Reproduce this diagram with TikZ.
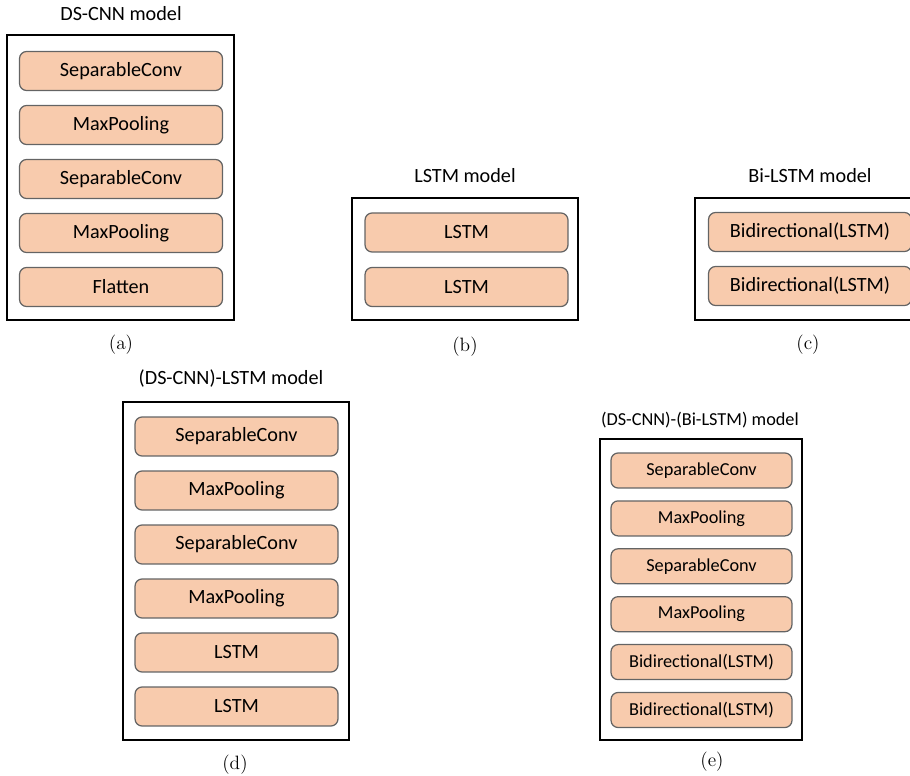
\documentclass[tikz,border=0pt]{standalone}
\usepackage{fontspec}
\newfontfamily\carlito{Carlito}
\usetikzlibrary{positioning}
\definecolor{peach}{RGB}{248,203,173}
\definecolor{edgegray}{RGB}{100,100,100}

\begin{document}
\begin{tikzpicture}[x=0.02cm, y=-0.02cm,
    layer/.style={draw=edgegray, line width=0.7pt, fill=peach, rounded corners=4pt,
        minimum width=4.06cm, minimum height=0.78cm, inner sep=0pt,
        font=\carlito\fontsize{11.5}{13}\selectfont},
    slayer/.style={layer, minimum width=3.62cm, minimum height=0.70cm,
        font=\carlito\fontsize{10.4}{12}\selectfont},
    frame/.style={draw, line width=1.1pt, inner sep=0pt},
    title/.style={anchor=base, font=\carlito\fontsize{11.5}{13}\selectfont},
    caption/.style={font=\fontsize{11}{13}\selectfont}]
    \useasboundingbox (0,0) rectangle (910,776);
    \clip (0,0) rectangle (910,776);

    % (a) DS-CNN
    \node[frame, minimum width=4.54cm, minimum height=5.70cm] (frameA) at (120.5,177.5) {};
    \node[title] (titleA) at (121,21) {DS-CNN model};
    \foreach \txt [count=\i from 0] in {SeparableConv,MaxPooling,SeparableConv,MaxPooling,Flatten}
        \node[layer] (a\i) at (121,{71+54*\i}) {\txt};
    \node[caption] (capA) at (121,345) {(a)};

    % (b) LSTM
    \node[frame, minimum width=4.52cm, minimum height=2.44cm] (frameB) at (465,259) {};
    \node[title] (titleB) at (465,183) {LSTM model};
    \foreach \txt [count=\i from 0] in {LSTM,LSTM}
        \node[layer] (b\i) at (466.5,{232.5+54.5*\i}) {\txt};
    \node[caption] (capB) at (465,347) {(b)};

    % (c) Bi-LSTM
    \node[frame, minimum width=4.54cm, minimum height=2.44cm] (frameC) at (808.5,259) {};
    \node[title] (titleC) at (810,183) {Bi-LSTM model};
    \foreach \txt [count=\i from 0] in {Bidirectional(LSTM),Bidirectional(LSTM)}
        \node[layer] (c\i) at (810,{232+54*\i}) {\txt};
    \node[caption] (capC) at (808,345) {(c)};

    % (d) (DS-CNN)-LSTM
    \node[frame, minimum width=4.52cm, minimum height=6.76cm] (frameD) at (236,571) {};
    \node[title] (titleD) at (231,385) {(DS-CNN)-LSTM model};
    \foreach \txt [count=\i from 0] in {SeparableConv,MaxPooling,SeparableConv,MaxPooling,LSTM,LSTM}
        \node[layer] (d\i) at (236.5,{436.5+54*\i}) {\txt};
    \node[caption] (capD) at (235,765) {(d)};

    % (e) (DS-CNN)-(Bi-LSTM)
    \node[frame, minimum width=4.04cm, minimum height=6.02cm] (frameE) at (701,589.5) {};
    \node[title, font=\carlito\fontsize{10.4}{12}\selectfont] (titleE) at (700,426) {(DS-CNN)-(Bi-LSTM) model};
    \foreach \txt [count=\i from 0] in {SeparableConv,MaxPooling,SeparableConv,MaxPooling,Bidirectional(LSTM),Bidirectional(LSTM)}
        \node[slayer] (e\i) at (701.5,{470.5+47.9*\i}) {\txt};
    \node[caption] (capE) at (712,762) {(e)};
\end{tikzpicture}
\end{document}
